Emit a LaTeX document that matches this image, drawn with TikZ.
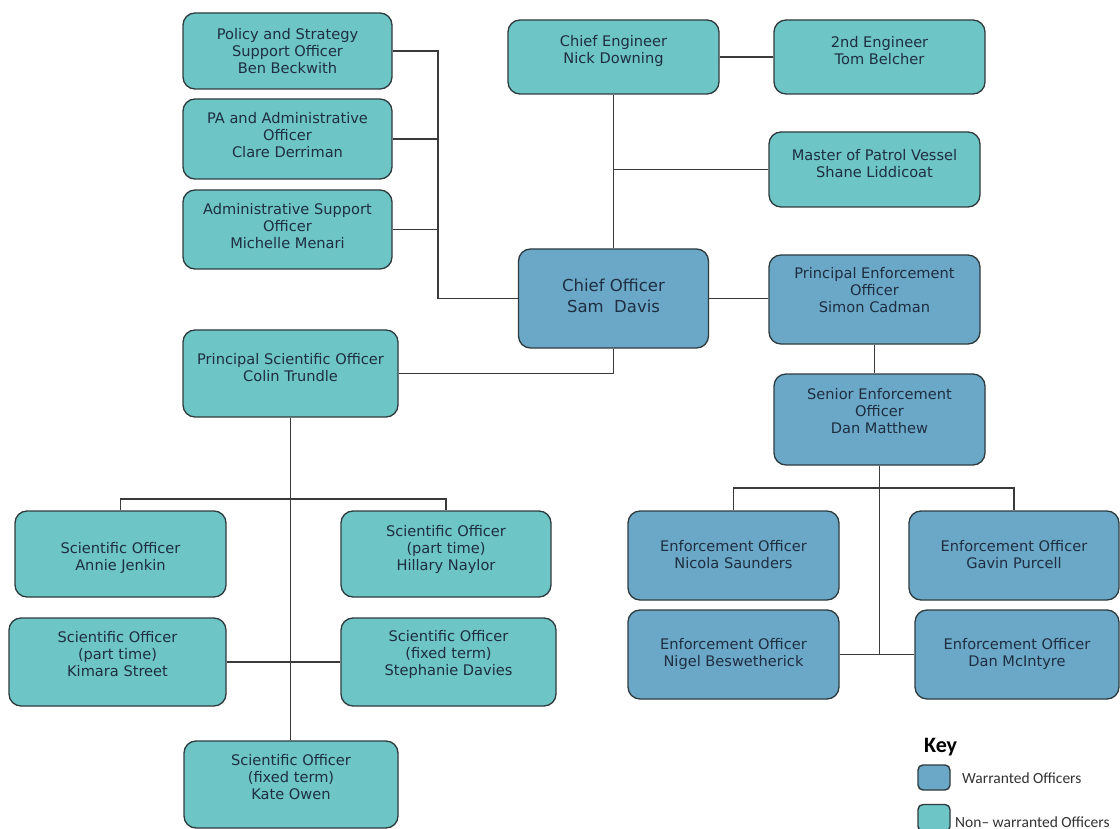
\documentclass[tikz,border=0pt]{standalone}
\usepackage{fontspec}
\setmainfont{DejaVu Sans}
\newfontfamily\keyfont{Carlito}
\definecolor{nwcol}{RGB}{110,197,197}
\definecolor{wcol}{RGB}{107,168,200}
\definecolor{bordc}{RGB}{46,59,62}
\definecolor{linec}{RGB}{58,58,58}
\definecolor{txtc}{RGB}{30,46,64}
\newcommand\obox[8]{%
  \node[#2, minimum width=#5pt, minimum height=#6pt] (#1) at (#3,#4) {};
  \node[txt] (#1t) at (#3,#7) {#8};}
\begin{document}
\begin{tikzpicture}[x=1pt,y=-1pt,
  box/.style={draw=bordc, line width=1.3pt, rounded corners=12pt, inner sep=0pt},
  nw/.style={box, fill=nwcol},
  wa/.style={box, fill=wcol},
  txt/.style={align=center, font=\fontsize{14.6}{17}\selectfont, text=txtc, inner sep=0pt},
  conn/.style={draw=linec, line width=1.3pt}]
\fill[white] (0,0) rectangle (1120,829);
\useasboundingbox (0,0) rectangle (1120,829);

\obox{pol}{nw}{287.5}{51}{209}{76}{51.5}{Policy and Strategy\\Support Officer\\Ben Beckwith}
\obox{pa}{nw}{287.5}{139}{209}{80}{135.5}{PA and Administrative\\Officer\\Clare Derriman}
\obox{adm}{nw}{287.5}{229.5}{209}{79}{226}{Administrative Support\\Officer\\Michelle Menari}
\obox{ce}{nw}{613.5}{57}{211}{74}{51}{Chief Engineer\\Nick Downing}
\obox{se}{nw}{879.5}{57}{211}{74}{51}{2nd Engineer\\Tom Belcher}
\obox{mpv}{nw}{874.5}{169.5}{211}{75}{163.5}{Master of Patrol Vessel\\Shane Liddicoat}
\node[wa, minimum width=190pt, minimum height=99pt] (co) at (613.5,298.5) {};
\node[txt, font=\fontsize{16.5}{21}\selectfont] (cot) at (613.5,295.5) {Chief Officer\\Sam\ \ Davis};
\obox{peo}{wa}{874.5}{299.5}{211}{89}{290}{Principal Enforcement\\Officer\\Simon Cadman}
\obox{pso}{nw}{290.5}{373.5}{215}{87}{368}{Principal Scientific Officer\\Colin Trundle}
\obox{seo}{wa}{879.5}{419.5}{211}{91}{411}{Senior Enforcement\\Officer\\Dan Matthew}
\obox{eo1}{wa}{733.5}{555.5}{211}{89}{554.5}{Enforcement Officer\\Nicola Saunders}
\obox{eo2}{wa}{1014}{555.5}{210}{89}{554.5}{Enforcement Officer\\Gavin Purcell}
\obox{eo3}{wa}{733.5}{654.5}{211}{89}{653.5}{Enforcement Officer\\Nigel Beswetherick}
\obox{eo4}{wa}{1017}{654.5}{204}{89}{653.5}{Enforcement Officer\\Dan McIntyre}
\obox{so1}{nw}{120.5}{554}{211}{86}{557.5}{Scientific Officer\\Annie Jenkin}
\obox{so2}{nw}{446}{554}{210}{86}{549}{Scientific Officer\\(part time)\\Hillary Naylor}
\obox{so3}{nw}{117.5}{662}{217}{88}{654}{Scientific Officer\\(part time)\\Kimara Street}
\obox{so4}{nw}{448.5}{662}{215}{88}{654}{Scientific Officer\\(fixed term)\\Stephanie Davies}
\obox{so5}{nw}{291}{784.5}{214}{87}{777.5}{Scientific Officer\\(fixed term)\\Kate Owen}

% connectors
\coordinate (adbus) at (438,298.5);
\draw[conn] (pol.east) -| (adbus) -- (co.west);
\draw[conn] (pa.east) -- (pa.east -| adbus);
\draw[conn] (adm.east) -- (adm.east -| adbus);
\draw[conn] (ce.south) -- (co.north);
\draw[conn] (ce.east) -- (se.west);
\draw[conn] (mpv.west) -- (mpv.west -| ce.south);
\draw[conn] (co.east) -- (co.east -| peo.west);
\draw[conn] (co.south) |- (pso.east);
\draw[conn] (peo.south) -- (peo.south |- seo.north);
\coordinate (ebus) at (879.5,488);
\draw[conn] (seo.south) -- (ebus);
\draw[conn] (eo1.north) |- (ebus) -| (eo2.north);
\draw[conn] (ebus) -- (ebus |- eo3.east);
\draw[conn] (eo3.east) -- (eo4.west);
\draw[conn] (pso.south) -- (pso.south |- so5.north);
\coordinate (sbus) at (290.5,499);
\draw[conn] (so1.north) |- (sbus) -| (so2.north);
\draw[conn] (so3.east) -- (so4.west);

% key
\node[font=\keyfont\bfseries\fontsize{22}{26}\selectfont, anchor=base west, inner sep=0pt, text=black] (keyt) at (924,752) {Key};
\node[wa, line width=1.4pt, rounded corners=5pt, minimum width=32pt, minimum height=25pt] (kw) at (934,777.5) {};
\node[nw, line width=1.4pt, rounded corners=5pt, minimum width=32pt, minimum height=27pt] (kn) at (934,818) {};
\node[font=\keyfont\fontsize{15.5}{18}\selectfont, anchor=west, inner sep=0pt, text=black!80] (kwt) at (962,778) {Warranted Officers};
\node[font=\keyfont\fontsize{15.5}{18}\selectfont, anchor=west, inner sep=0pt, text=black!80] (knt) at (955,822) {Non– warranted Officers};
\end{tikzpicture}
\end{document}
